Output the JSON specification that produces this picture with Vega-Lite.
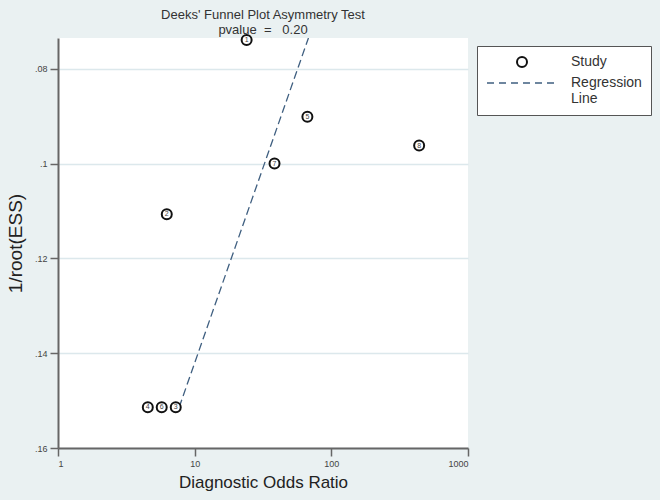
{
  "$schema": "https://vega.github.io/schema/vega-lite/v6.json",
  "autosize": {"type": "none"},
  "width": 410,
  "height": 410,
  "padding": {"left": 58, "top": 38, "right": 192, "bottom": 52},
  "background": "#eaf1f2",
  "title": {
    "text": "Deeks' Funnel Plot Asymmetry Test",
    "subtitle": "pvalue \u00a0= \u00a0 0.20",
    "font": "Liberation Sans",
    "fontSize": 13,
    "fontWeight": "normal",
    "color": "#333333",
    "subtitleFont": "Liberation Sans",
    "subtitleFontSize": 13,
    "subtitleColor": "#333333",
    "subtitlePadding": 2,
    "anchor": "middle",
    "offset": -6
  },
  "config": {
    "view": {"fill": "white", "stroke": null},
    "axis": {
      "labelFont": "Liberation Sans",
      "labelFontSize": 9,
      "labelColor": "#444444",
      "titleFont": "Liberation Sans",
      "titleFontSize": 17,
      "titleFontWeight": "normal",
      "titleColor": "#222222",
      "domainColor": "#666666",
      "domainWidth": 2,
      "tickColor": "#666666",
      "tickWidth": 1.5,
      "tickSize": 8
    }
  },
  "datasets": {
    "studies": [
      {"study": "1", "dor": 24, "ress": 0.0739},
      {"study": "2", "dor": 6.25, "ress": 0.1107},
      {"study": "3", "dor": 7.27, "ress": 0.1514},
      {"study": "4", "dor": 4.54, "ress": 0.1514},
      {"study": "5", "dor": 66.8, "ress": 0.0901},
      {"study": "6", "dor": 5.74, "ress": 0.1514},
      {"study": "7", "dor": 38.4, "ress": 0.1},
      {"study": "8", "dor": 439, "ress": 0.0962}
    ],
    "regression": [
      {"dor": 7.7, "ress": 0.1514},
      {"dor": 68, "ress": 0.0735}
    ]
  },
  "encoding": {
    "x": {
      "field": "dor",
      "type": "quantitative",
      "scale": {"type": "log", "domain": [1, 1000], "nice": false},
      "axis": {
        "title": "Diagnostic Odds Ratio",
        "values": [1, 10, 100, 1000],
        "format": "d",
        "grid": false,
        "labelPadding": 3,
        "titlePadding": 6
      }
    },
    "y": {
      "field": "ress",
      "type": "quantitative",
      "scale": {"domain": [0.0735, 0.16], "reverse": true, "nice": false, "zero": false},
      "axis": {
        "title": "1/root(ESS)",
        "titleFontSize": 19,
        "values": [0.08, 0.1, 0.12, 0.14, 0.16],
        "labelExpr": "replace(format(datum.value, '.2~f'), /^0/, '')",
        "grid": true,
        "gridColor": "#dce8ec",
        "gridWidth": 1.5,
        "labelPadding": 3,
        "titlePadding": 9
      }
    }
  },
  "layer": [
    {
      "data": {"name": "regression"},
      "mark": {"type": "line", "strokeDash": [8, 4], "strokeWidth": 1.3, "clip": true},
      "encoding": {
        "color": {
          "datum": "Regression Line",
          "type": "nominal",
          "scale": {"domain": ["Study", "Regression Line"], "range": ["#111111", "#3f5f80"]},
          "legend": {
            "title": null,
            "orient": "none",
            "legendX": 419,
            "legendY": 8,
            "direction": "vertical",
            "strokeColor": "#555555",
            "fillColor": "white",
            "padding": 9,
            "symbolSize": 100,
            "symbolOffset": 29,
            "labelOffset": 42,
            "labelFont": "Liberation Sans",
            "labelFontSize": 14,
            "labelColor": "#333333",
            "labelLimit": 200,
            "rowPadding": 5,
            "labelExpr": "datum.label == 'Regression Line' ? ['Regression', 'Line'] : datum.label",
            "encode": {
              "symbols": {
                "update": {
                  "shape": {"signal": "datum.value == 'Study' ? 'circle' : 'M-7,0L7,0'"},
                  "strokeDash": {"signal": "datum.value == 'Study' ? [] : [7, 5]"},
                  "strokeWidth": {"signal": "datum.value == 'Study' ? 2 : 1.5"},
                  "fill": {"value": "transparent"},
                  "stroke": {"signal": "datum.value == 'Study' ? '#111111' : '#7f95a8'"}
                }
              }
            }
          }
        }
      }
    },
    {
      "data": {"name": "studies"},
      "mark": {"type": "point", "shape": "circle", "filled": false, "fill": "white", "size": 100, "strokeWidth": 2, "opacity": 1},
      "encoding": {
        "color": {"datum": "Study", "type": "nominal"}
      }
    },
    {
      "data": {"name": "studies"},
      "mark": {"type": "text", "font": "Liberation Sans", "fontSize": 7, "color": "#444444", "baseline": "middle", "align": "center"},
      "encoding": {
        "text": {"field": "study"}
      }
    }
  ]
}
